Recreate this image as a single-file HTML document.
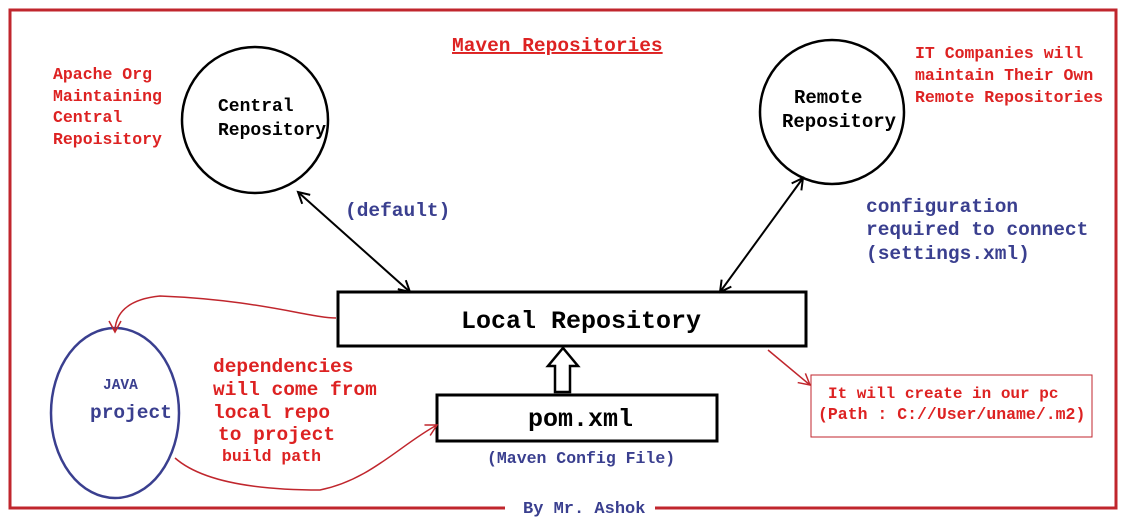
<!DOCTYPE html>
<html><head><style>
body{margin:0;background:#fff;}
svg{display:block;}
text{font-family:"Liberation Mono",monospace;font-weight:bold;}
</style></head><body>
<svg width="1135" height="526" viewBox="0 0 1135 526">
<defs>
<marker id="ab" markerWidth="14" markerHeight="14" refX="12" refY="7" orient="auto-start-reverse" markerUnits="userSpaceOnUse"><path d="M1,1 L12,7 L1,13" fill="none" stroke="#000" stroke-width="2"/></marker>
<marker id="ar" markerWidth="14" markerHeight="14" refX="12" refY="7" orient="auto" markerUnits="userSpaceOnUse"><path d="M1,1 L12,7 L1,13" fill="none" stroke="#c0262d" stroke-width="1.5"/></marker>
</defs>
<path d="M505,508 L10,508 L10,10 L1116,10 L1116,508 L655,508" fill="none" stroke="#c0262d" stroke-width="3"/>
<text x="523" y="513" font-size="17" fill="#3a3f8f">By Mr. Ashok</text>
<text x="452" y="51" font-size="19.5" fill="#d22" text-decoration="underline">Maven Repositories</text>
<g font-size="16.5" fill="#d22">
<text x="53" y="79">Apache Org</text><text x="53" y="101">Maintaining</text><text x="53" y="122">Central</text><text x="53" y="144">Repoisitory</text>
<text x="915" y="58">IT Companies will</text><text x="915" y="80">maintain Their Own</text><text x="915" y="102">Remote Repositories</text>
<text x="213" y="372" font-size="19.5">dependencies</text><text x="213" y="395" font-size="19.5">will come from</text><text x="213" y="418" font-size="19.5">local repo</text><text x="218" y="440" font-size="19.5">to project</text><text x="222" y="461" font-size="16.5">build path</text>
<text x="828" y="398" font-size="16">It will create in our pc</text><text x="818" y="419" font-size="16.5">(Path : C://User/uname/.m2)</text>
</g>
<circle cx="255" cy="120" r="73" fill="none" stroke="#000" stroke-width="2.5"/>
<circle cx="832" cy="112" r="72" fill="none" stroke="#000" stroke-width="2.5"/>
<ellipse cx="115" cy="413" rx="64" ry="85" fill="none" stroke="#3a3f8f" stroke-width="2.5"/>
<g font-size="18" fill="#000"><text x="218" y="111">Central</text><text x="218" y="135">Repository</text>
<text x="794" y="103" font-size="19">Remote</text><text x="782" y="127" font-size="19">Repository</text></g>
<text x="103" y="389" font-size="14.5" fill="#3a3f8f">JAVA</text>
<text x="90" y="418" font-size="19.5" fill="#3a3f8f">project</text>
<g font-size="19.5" fill="#3a3f8f">
<text x="345" y="216">(default)</text>
<text x="866" y="212">configuration</text><text x="866" y="235">required to connect</text><text x="866" y="259">(settings.xml)</text>
<text x="487" y="463" font-size="16.5">(Maven Config File)</text></g>
<rect x="338" y="292" width="468" height="54" fill="#fff" stroke="#000" stroke-width="3"/>
<text x="461" y="328" font-size="25" fill="#000">Local Repository</text>
<rect x="437" y="395" width="280" height="46" fill="#fff" stroke="#000" stroke-width="3"/>
<text x="528" y="426" font-size="25" fill="#000">pom.xml</text>
<path d="M555,392 L555,366 L548,366 L563,348 L578,366 L570,366 L570,392 Z" fill="#fff" stroke="#000" stroke-width="2.5"/>
<line x1="298" y1="192" x2="410" y2="292" stroke="#000" stroke-width="2" marker-start="url(#ab)" marker-end="url(#ab)"/>
<line x1="803" y1="178" x2="720" y2="292" stroke="#000" stroke-width="2" marker-start="url(#ab)" marker-end="url(#ab)"/>
<rect x="811" y="375" width="281" height="62" fill="none" stroke="#c0262d" stroke-width="1"/>
<path d="M768,350 L810,385" fill="none" stroke="#c0262d" stroke-width="1.5" marker-end="url(#ar)"/>
<path d="M336,318 C310,318 260,300 160,296 C120,300 115,320 115,332" fill="none" stroke="#c0262d" stroke-width="1.5" marker-end="url(#ar)"/>
<path d="M175,458 C200,480 250,490 320,490 C370,480 400,445 437,425" fill="none" stroke="#c0262d" stroke-width="1.5" marker-end="url(#ar)"/>
</svg>
</body></html>
